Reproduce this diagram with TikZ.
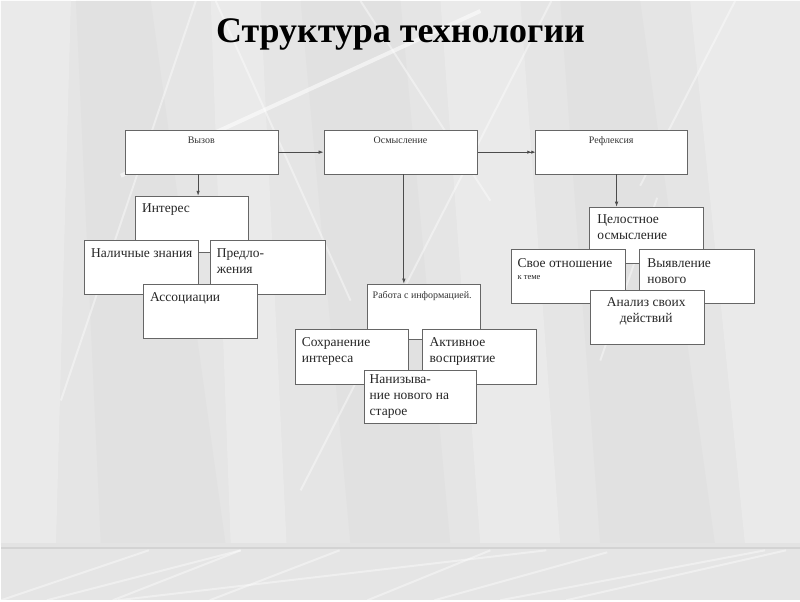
\documentclass[tikz,border=0pt]{standalone}
\usepackage{fontspec}
\setmainfont{Liberation Serif}
\usetikzlibrary{arrows.meta}
\definecolor{bgbase}{HTML}{E5E5E5}
\definecolor{bglight}{HTML}{EAEAEA}
\definecolor{bgdark}{HTML}{E1E1E1}
\definecolor{bandline}{HTML}{C8C8C8}
\begin{document}
\begin{tikzpicture}[x=1pt,y=-1pt,
  bx/.style={draw=black!60, fill=white, line width=0.7pt, inner sep=0pt, anchor=north west},
  tx/.style={anchor=north west, inner sep=0pt, align=left, text=black!85, font=\fontsize{13.5}{16}\selectfont},
  hd/.style={anchor=base, inner sep=0pt, text=black!80, font=\fontsize{10}{12}\selectfont},
  ar/.style={draw=black!70, line width=0.7pt, -{Latex[length=5pt,width=3.5pt]}},
  ardbl/.style={draw=black!70, line width=0.7pt, -{Latex[length=4pt,width=3.5pt]Latex[length=4pt,width=3.5pt]}},
  wl/.style={draw=white, opacity=0.4, line width=2pt},
  wlthick/.style={draw=white, opacity=0.55, line width=4pt}]
% ---------- background ----------
\fill[bgbase] (0,0) rectangle (800,600);
\fill[bglight] (0,0) -- (70,0) -- (55,545) -- (0,545) -- cycle;
\fill[bgdark] (75,0) -- (150,0) -- (225,545) -- (100,545) -- cycle;
\fill[bglight] (210,0) -- (260,0) -- (286,545) -- (230,545) -- cycle;
\fill[bgdark] (300,0) -- (400,0) -- (450,545) -- (350,545) -- cycle;
\fill[bglight] (440,0) -- (520,0) -- (560,545) -- (480,545) -- cycle;
\fill[bgdark] (560,0) -- (640,0) -- (715,545) -- (600,545) -- cycle;
\fill[bglight] (690,0) -- (800,0) -- (800,545) -- (745,545) -- cycle;
\draw[wl] (195,0) -- (60,400);
\draw[wl] (215,0) -- (350,300);
\draw[wl] (360,0) -- (490,200);
\draw[wl] (551,0) -- (300,490);
\draw[wl] (735,0) -- (640,185);
\draw[wl] (657,197) -- (600,360);
\draw[wlthick] (120,175) -- (480,10);
% bottom band
\fill[bgbase] (0,547) rectangle (800,600);
\fill[bandline!50] (0,543) rectangle (800,547);
\fill[bandline!80] (0,547) rectangle (800,549);
\draw[wl] (0,600) -- (148,550);
\draw[wl] (46,600) -- (240,550);
\draw[wl] (112,600) -- (240,550);
\draw[wl] (209,600) -- (339,550);
\draw[wl] (117,600) -- (546,550);
\draw[wl] (367,600) -- (490,550);
\draw[wl] (434,600) -- (607,552);
\draw[wl] (500,600) -- (765,550);
\draw[wl] (566,600) -- (786,550);
\useasboundingbox (0,0) rectangle (800,600);
% ---------- title ----------
\node[anchor=base, inner sep=0pt, font=\fontsize{36}{40}\selectfont\bfseries] (title) at (400,42) {Структура технологии};
% ---------- top row ----------
\node[bx, minimum width=153pt, minimum height=44pt] (vyz) at (124,129) {};
\node[hd] (vyzT) at (200.5,143) {Вызов};
\node[bx, minimum width=154pt, minimum height=44pt] (osm) at (323,129) {};
\node[hd] (osmT) at (400,143) {Осмысление};
\node[bx, minimum width=152pt, minimum height=44pt] (ref) at (535,129) {};
\node[hd] (refT) at (611,143) {Рефлексия};
\draw[ar] (vyz.east) -- (osm.west);
\draw[ardbl] (osm.east) -- (ref.west);
% ---------- left group ----------
\node[bx, minimum width=113pt, minimum height=56pt] (int) at (134,195) {};
\node[tx] (intT) at (141,203) {Интерес};
\node[bx, minimum width=114pt, minimum height=54pt] (nal) at (83,239) {};
\node[tx] (nalT) at (90,248) {Наличные знания};
\node[bx, minimum width=115pt, minimum height=54pt] (pre) at (209,239) {};
\node[tx] (preT) at (216,248) {Предло-\\жения};
\node[bx, minimum width=114pt, minimum height=54pt] (ass) at (142,283) {};
\node[tx] (assT) at (149,292) {Ассоциации};
\draw[ar] ([xshift=-3.5pt]vyz.south) -- ([xshift=-3.5pt]vyz.south |- int.north);
% ---------- middle group ----------
\node[bx, minimum width=114pt, minimum height=55pt] (rab) at (366,283) {};
\node[anchor=base west, inner sep=0pt, text=black!80, font=\fontsize{10}{12}\selectfont] (rabT) at (372,298) {Работа с информацией.};
\node[bx, minimum width=114pt, minimum height=55pt] (sok) at (294,328) {};
\node[tx] (sokT) at (301,337) {Сохранение\\интереса};
\node[bx, minimum width=114pt, minimum height=55pt] (akt) at (422,328) {};
\node[tx] (aktT) at (429,337) {Активное\\восприятие};
\node[bx, minimum width=113pt, minimum height=54pt] (nan) at (363,369) {};
\node[tx] (nanT) at (369,374) {Нанизыва-\\ние нового на\\старое};
\draw[ar] ([xshift=3pt]osm.south) -- ([xshift=3pt]osm.south |- rab.north);
% ---------- right group ----------
\node[bx, minimum width=114pt, minimum height=56pt] (tsel) at (589,206) {};
\node[tx] (tselT) at (597,214) {Целостное\\осмысление};
\node[bx, minimum width=114pt, minimum height=54pt] (svo) at (511,248) {};
\node[tx] (svoT) at (517,258) {Свое отношение\\[-4pt]{\fontsize{8.5}{10}\selectfont к теме}};
\node[bx, minimum width=115pt, minimum height=54pt] (vyy) at (639,248) {};
\node[tx] (vyyT) at (647,258) {Выявление\\нового};
\node[bx, minimum width=114pt, minimum height=54pt] (ana) at (590,289) {};
\node[tx, anchor=north, align=center] (anaT) at (646,297) {Анализ своих\\действий};
\draw[ar] ([xshift=5pt]ref.south) -- ([xshift=5pt]ref.south |- tsel.north);
\end{tikzpicture}
\end{document}
